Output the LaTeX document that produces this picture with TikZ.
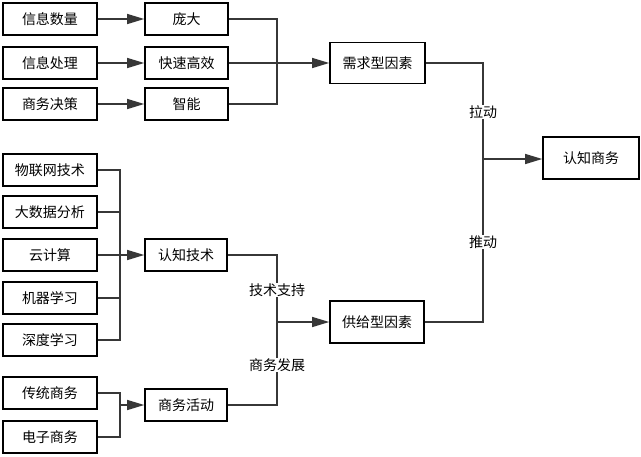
\documentclass[tikz,border=0pt]{standalone}
\usepackage{fontspec}
\newfontfamily\cjk{Noto Sans CJK SC}
\definecolor{linegray}{RGB}{55,55,55}
\usepackage{tikz}
\usetikzlibrary{arrows.meta,calc}

\tikzset{
    box/.style={draw=black, line width=1.6pt, fill=white, minimum height=32pt, inner sep=2pt, font=\cjk\fontsize{14}{16}\selectfont},
    wire/.style={draw=linegray, line width=1.3pt},
    arr/.style={wire, -{Triangle[length=17pt,width=10pt]}},
    lbl/.style={fill=white, inner sep=1pt, font=\cjk\fontsize{14}{16}\selectfont}
}

\begin{document}
\begin{tikzpicture}[x=1pt, y=-1pt]
    \useasboundingbox (0,0) rectangle (641,456);

    % Demand side
    \node[box, minimum width=94pt] (info1) at (50,19) {信息数量};
    \node[box, minimum width=94pt] (info2) at (50,63) {信息处理};
    \node[box, minimum width=94pt] (info3) at (50,104) {商务决策};
    \node[box, minimum width=83pt] (huge) at (186.5,19) {庞大};
    \node[box, minimum width=83pt] (fast) at (186.5,63) {快速高效};
    \node[box, minimum width=83pt] (smart) at (186.5,104) {智能};
    \node[box, minimum width=95pt, minimum height=41pt] (demand) at (377.5,63) {需求型因素};

    % Technology group
    \node[box, minimum width=94pt] (iot) at (50,170) {物联网技术};
    \node[box, minimum width=94pt] (bigdata) at (50,212) {大数据分析};
    \node[box, minimum width=94pt] (cloud) at (50,255) {云计算};
    \node[box, minimum width=94pt] (ml) at (50,298) {机器学习};
    \node[box, minimum width=94pt] (dl) at (50,340) {深度学习};
    \node[box, minimum width=82pt] (cogtech) at (186,255) {认知技术};

    % Commerce group
    \node[box, minimum width=94pt] (tradcom) at (50,393) {传统商务};
    \node[box, minimum width=94pt] (ecom) at (50,437) {电子商务};
    \node[box, minimum width=82pt] (bizact) at (186,405) {商务活动};

    % Supply side and result
    \node[box, minimum width=94pt, minimum height=42pt] (supply) at (377,322) {供给型因素};
    \node[box, minimum width=96pt, minimum height=42pt] (cogcom) at (591,158) {认知商务};

    % Junctions
    \coordinate (demandjoin) at (277,63);
    \coordinate (techjoin) at (120,255);
    \coordinate (comjoin) at (120,405);
    \coordinate (supplyjoin) at (277,322);
    \coordinate (cogjoin) at (483,159);

    % Connections
    \draw[arr] (info1) -- (huge);
    \draw[arr] (info2) -- (fast);
    \draw[arr] (info3) -- (smart);
    \draw[wire] (huge.east) -| (demandjoin);
    \draw[wire] (smart.east) -| (demandjoin);
    \draw[arr] (fast) -- (demand);

    \draw[wire] (iot.east) -| (techjoin);
    \draw[wire] (bigdata.east) -| (techjoin);
    \draw[wire] (ml.east) -| (techjoin);
    \draw[wire] (dl.east) -| (techjoin);
    \draw[arr] (cloud) -- (cogtech);

    \draw[wire] (tradcom.east) -| (comjoin);
    \draw[wire] (ecom.east) -| (comjoin);
    \draw[arr] (comjoin) -- (bizact);

    \draw[wire] (cogtech.east) -| (supplyjoin);
    \draw[wire] (bizact.east) -| (supplyjoin);
    \draw[arr] (supplyjoin) -- (supply);

    \draw[wire] (demand.east) -| (cogjoin);
    \draw[wire] (supply.east) -| (cogjoin);
    \draw[arr] (cogjoin) -- (cogcom.west |- cogjoin);

    % Labels
    \node[lbl] (techsup) at (277,290) {技术支持};
    \node[lbl] (bizdev) at (277,365) {商务发展};
    \node[lbl] (pull) at (483,112) {拉动};
    \node[lbl] (push) at (483,242) {推动};
\end{tikzpicture}
\end{document}
